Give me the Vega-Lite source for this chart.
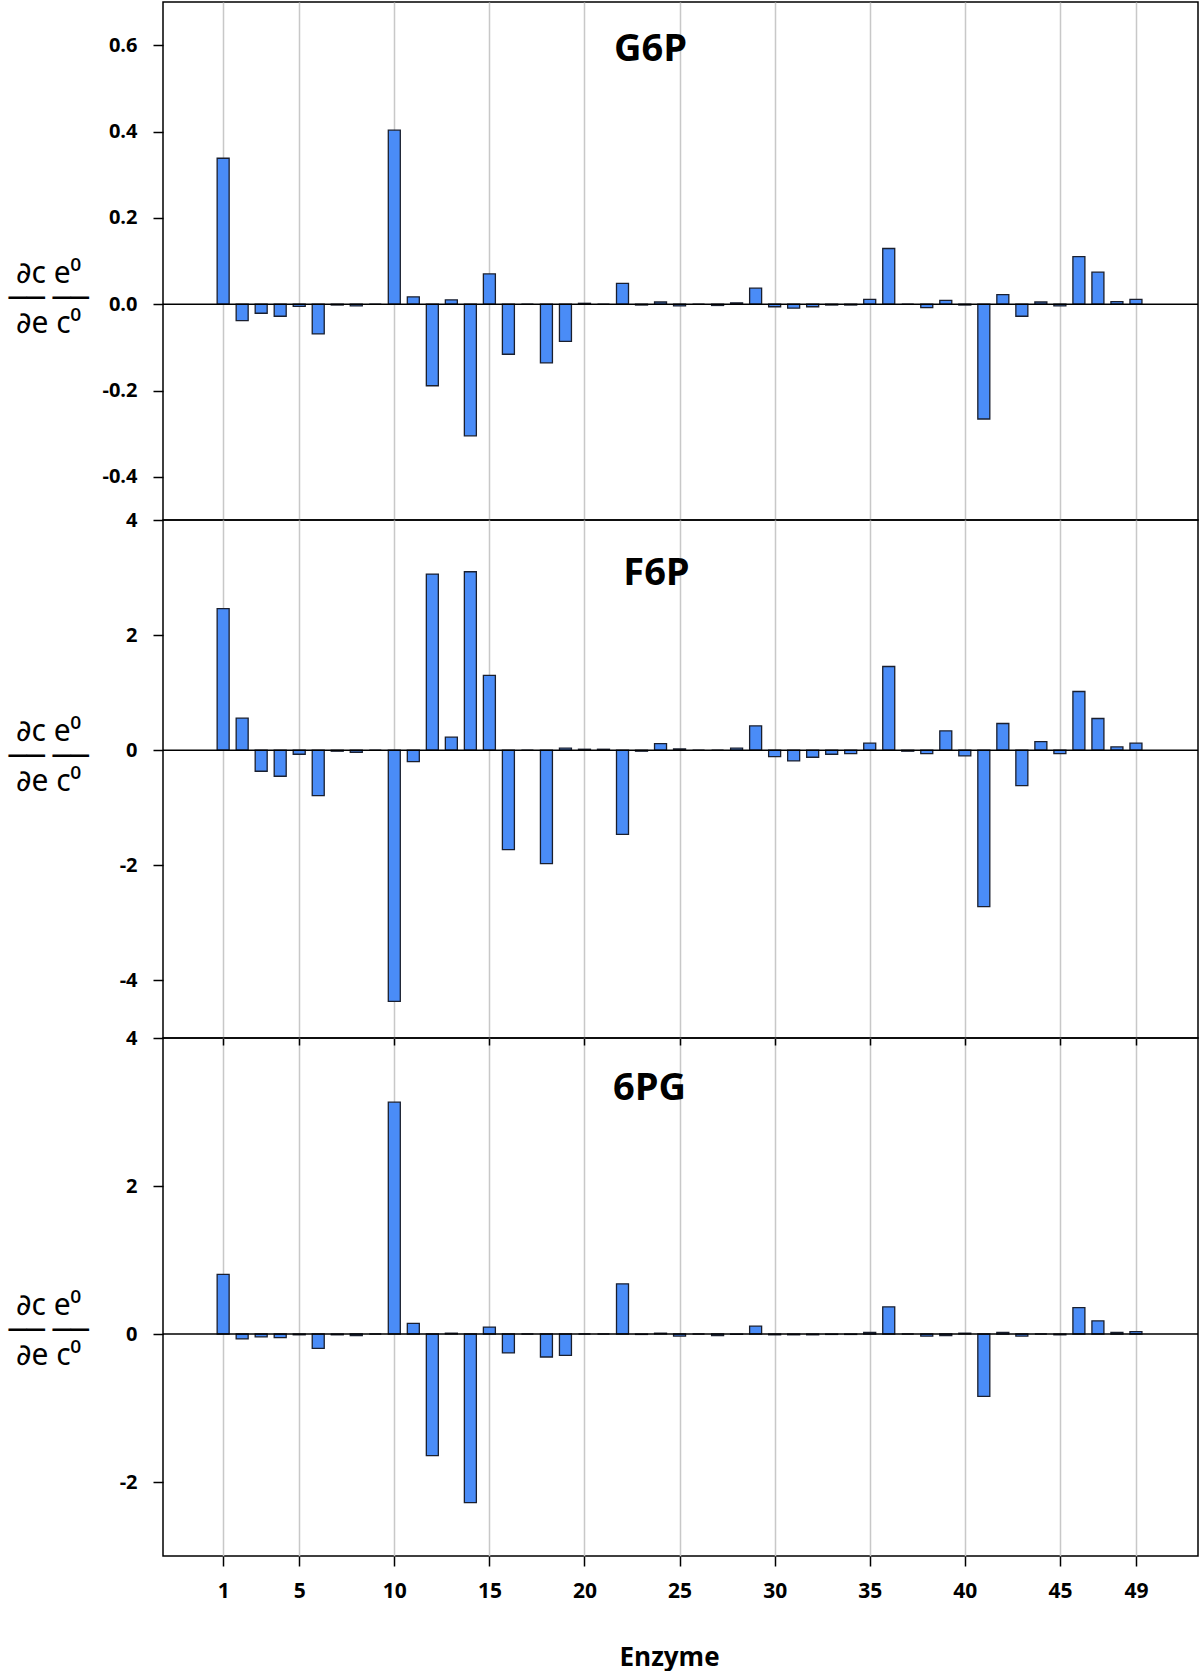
{
  "$schema": "https://vega.github.io/schema/vega-lite/v6.json",
  "padding": {"left": 7, "top": 1, "right": 2, "bottom": 0},
  "bounds": "flush",
  "spacing": 0,
  "background": "white",
  "data": {"values": [
    {"e": 1, "G6P": 0.338, "F6P": 2.46, "PG6": 0.806},
    {"e": 2, "G6P": -0.038, "F6P": 0.557, "PG6": -0.067},
    {"e": 3, "G6P": -0.021, "F6P": -0.365, "PG6": -0.039},
    {"e": 4, "G6P": -0.028, "F6P": -0.452, "PG6": -0.05},
    {"e": 5, "G6P": -0.005, "F6P": -0.07, "PG6": -0.011},
    {"e": 6, "G6P": -0.069, "F6P": -0.788, "PG6": -0.194},
    {"e": 7, "G6P": -0.002, "F6P": -0.017, "PG6": -0.011},
    {"e": 8, "G6P": -0.004, "F6P": -0.035, "PG6": -0.022},
    {"e": 9, "G6P": 0, "F6P": 0, "PG6": 0},
    {"e": 10, "G6P": 0.403, "F6P": -4.365, "PG6": 3.133},
    {"e": 11, "G6P": 0.017, "F6P": -0.197, "PG6": 0.144},
    {"e": 12, "G6P": -0.189, "F6P": 3.061, "PG6": -1.644},
    {"e": 13, "G6P": 0.01, "F6P": 0.226, "PG6": 0.011},
    {"e": 14, "G6P": -0.305, "F6P": 3.101, "PG6": -2.278},
    {"e": 15, "G6P": 0.07, "F6P": 1.299, "PG6": 0.094},
    {"e": 16, "G6P": -0.116, "F6P": -1.728, "PG6": -0.256},
    {"e": 17, "G6P": 0, "F6P": 0, "PG6": 0},
    {"e": 18, "G6P": -0.136, "F6P": -1.971, "PG6": -0.311},
    {"e": 19, "G6P": -0.086, "F6P": 0.035, "PG6": -0.289},
    {"e": 20, "G6P": 0.002, "F6P": 0.017, "PG6": 0},
    {"e": 21, "G6P": 0, "F6P": 0.017, "PG6": 0},
    {"e": 22, "G6P": 0.048, "F6P": -1.461, "PG6": 0.678},
    {"e": 23, "G6P": -0.002, "F6P": -0.017, "PG6": -0.006},
    {"e": 24, "G6P": 0.005, "F6P": 0.116, "PG6": 0.011},
    {"e": 25, "G6P": -0.004, "F6P": 0.023, "PG6": -0.028},
    {"e": 26, "G6P": 0, "F6P": 0, "PG6": 0},
    {"e": 27, "G6P": -0.003, "F6P": 0, "PG6": -0.022},
    {"e": 28, "G6P": 0.003, "F6P": 0.035, "PG6": -0.005},
    {"e": 29, "G6P": 0.037, "F6P": 0.423, "PG6": 0.106},
    {"e": 30, "G6P": -0.006, "F6P": -0.11, "PG6": -0.011},
    {"e": 31, "G6P": -0.009, "F6P": -0.186, "PG6": -0.011},
    {"e": 32, "G6P": -0.006, "F6P": -0.122, "PG6": -0.011},
    {"e": 33, "G6P": -0.002, "F6P": -0.07, "PG6": -0.006},
    {"e": 34, "G6P": -0.002, "F6P": -0.058, "PG6": -0.006},
    {"e": 35, "G6P": 0.011, "F6P": 0.122, "PG6": 0.022},
    {"e": 36, "G6P": 0.129, "F6P": 1.455, "PG6": 0.367},
    {"e": 37, "G6P": 0, "F6P": -0.017, "PG6": 0},
    {"e": 38, "G6P": -0.008, "F6P": -0.058, "PG6": -0.028},
    {"e": 39, "G6P": 0.009, "F6P": 0.336, "PG6": -0.022},
    {"e": 40, "G6P": -0.002, "F6P": -0.099, "PG6": 0.011},
    {"e": 41, "G6P": -0.266, "F6P": -2.719, "PG6": -0.844},
    {"e": 42, "G6P": 0.022, "F6P": 0.464, "PG6": 0.022},
    {"e": 43, "G6P": -0.028, "F6P": -0.614, "PG6": -0.028},
    {"e": 44, "G6P": 0.005, "F6P": 0.151, "PG6": 0},
    {"e": 45, "G6P": -0.004, "F6P": -0.058, "PG6": -0.011},
    {"e": 46, "G6P": 0.11, "F6P": 1.02, "PG6": 0.356},
    {"e": 47, "G6P": 0.074, "F6P": 0.551, "PG6": 0.178},
    {"e": 48, "G6P": 0.006, "F6P": 0.058, "PG6": 0.022},
    {"e": 49, "G6P": 0.011, "F6P": 0.122, "PG6": 0.033}
  ]},
  "config": {
    "view": {"stroke": "black", "strokeWidth": 1.5},
    "concat": {"spacing": 0},
    "axis": {
      "labelFont": "Open Sans", "labelFontWeight": "bold", "labelFontSize": 20, "labelColor": "black",
      "tickColor": "black", "tickWidth": 1.5, "tickSize": 10,
      "domainColor": "black", "domainWidth": 1.5,
      "gridColor": "#c8c8c8", "gridWidth": 1.5
    },
    "axisY": {
      "grid": false, "labelPadding": 16, "domain": false,
      "labelExpr": "replace(datum.label, '−', '-')",
      "titleFont": "Noto Sans, DejaVu Sans", "titleFontWeight": "normal", "titleFontSize": 30,
      "titleColor": "black", "titleAngle": 0, "titleAlign": "center", "titleBaseline": "alphabetic",
      "titleLineHeight": 25, "titleX": -115
    },
    "bar": {"fill": "#4a8cf7", "stroke": "#1a1f2e", "strokeWidth": 1.3, "size": 12},
    "title": {"font": "Open Sans", "fontWeight": "bold", "fontSize": 38, "color": "black", "anchor": "middle", "frame": "group", "baseline": "alphabetic"}
  },
  "vconcat": [
    {
      "width": 1035, "height": 518,
      "title": {"text": "G6P", "offset": -67, "dx": -30},
      "layer": [
        {
          "mark": "bar",
          "encoding": {
            "x": {"field": "e", "type": "quantitative", "scale": {"domain": [-1.9, 52], "nice": false, "zero": false},
                  "axis": {"values": [1, 5, 10, 15, 20, 25, 30, 35, 40, 45, 49], "grid": true, "labels": false, "ticks": false, "domain": false, "title": null}},
            "y": {"field": "G6P", "type": "quantitative", "scale": {"domain": [-0.5, 0.7], "nice": false},
                  "axis": {"values": [-0.4, -0.2, 0, 0.2, 0.4, 0.6], "format": ".1f", "title": ["∂c  e⁰", "── ──", "∂e  c⁰"], "titleY": 280}}
          }
        },
        {"data": {"values": [{}]}, "mark": {"type": "rule", "color": "black", "strokeWidth": 1.5}, "encoding": {"y": {"datum": 0}}}
      ]
    },
    {
      "width": 1035, "height": 518,
      "title": {"text": "F6P", "offset": -83, "dx": -24},
      "layer": [
        {
          "mark": "bar",
          "encoding": {
            "x": {"field": "e", "type": "quantitative", "scale": {"domain": [-1.9, 52], "nice": false, "zero": false},
                  "axis": {"values": [1, 5, 10, 15, 20, 25, 30, 35, 40, 45, 49], "grid": true, "labels": false, "ticks": false, "domain": false, "title": null}},
            "y": {"field": "F6P", "type": "quantitative", "scale": {"domain": [-5, 4], "nice": false},
                  "axis": {"values": [-4, -2, 0, 2, 4], "format": "d", "title": ["∂c  e⁰", "── ──", "∂e  c⁰"], "titleY": 220}}
          }
        },
        {"data": {"values": [{}]}, "mark": {"type": "rule", "color": "black", "strokeWidth": 1.5}, "encoding": {"y": {"datum": 0}}}
      ]
    },
    {
      "width": 1035, "height": 518,
      "title": {"text": "6PG", "offset": -80, "dx": -31},
      "resolve": {"axis": {"x": "independent"}},
      "layer": [
        {
          "mark": "bar",
          "encoding": {
            "x": {"field": "e", "type": "quantitative", "scale": {"domain": [-1.9, 52], "nice": false, "zero": false},
                  "axis": {"values": [1, 5, 10, 15, 20, 25, 30, 35, 40, 45, 49], "grid": true, "format": "d", "labelFontSize": 21, "labelPadding": 14, "domain": false,
                           "title": "Enzyme", "titleFont": "Open Sans", "titleFontWeight": "bold", "titleFontSize": 26, "titleColor": "black", "titlePadding": 43, "titleX": 506}},
            "y": {"field": "PG6", "type": "quantitative", "scale": {"domain": [-3, 4], "nice": false},
                  "axis": {"values": [-2, 0, 2, 4], "format": "d", "title": ["∂c  e⁰", "── ──", "∂e  c⁰"], "titleY": 276}}
          }
        },
        {"data": {"values": [{}]}, "mark": {"type": "rule", "color": "black", "strokeWidth": 1.5}, "encoding": {"y": {"datum": 0}}},
        {
          "mark": {"type": "point", "opacity": 0},
          "encoding": {
            "x": {"field": "e", "type": "quantitative",
                  "axis": {"orient": "top", "values": [1, 5, 10, 15, 20, 25, 30, 35, 40, 45, 49], "grid": false, "labels": false, "domain": false, "title": null, "tickSize": -7}}
          }
        }
      ]
    }
  ]
}
